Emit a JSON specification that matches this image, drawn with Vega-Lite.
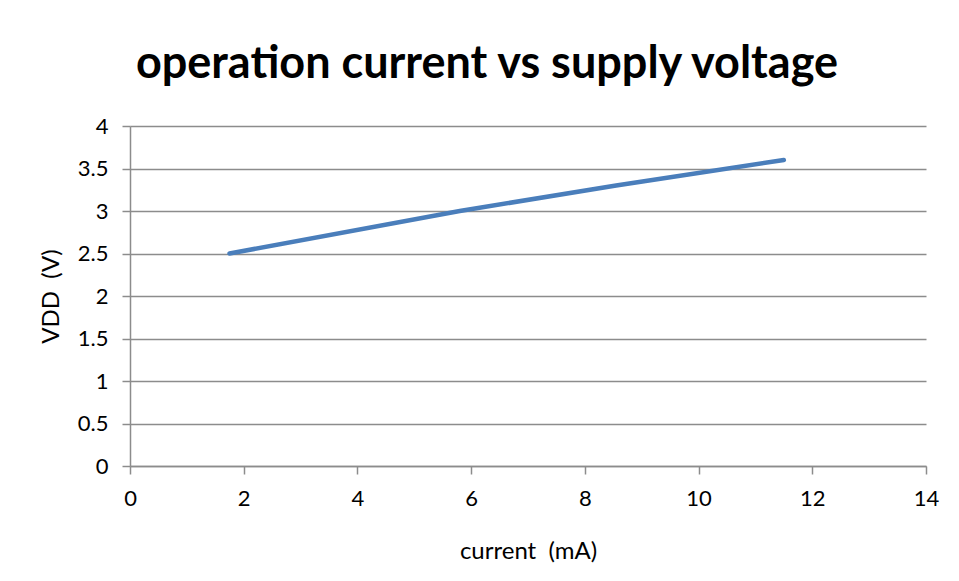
{
  "$schema": "https://vega.github.io/schema/vega-lite/v6.json",
  "width": 796,
  "height": 340,
  "autosize": {"type": "none"},
  "padding": {"left": 130, "top": 126, "right": 33, "bottom": 115},
  "background": "white",
  "title": {
    "text": "operation current vs supply voltage",
    "font": "Lato",
    "fontSize": 45,
    "fontWeight": "bold",
    "color": "black",
    "anchor": "middle",
    "dx": -41,
    "offset": 28
  },
  "data": {
    "values": [
      {"current": 1.75, "vdd": 2.5},
      {"current": 5.8, "vdd": 3.0},
      {"current": 8.55, "vdd": 3.3},
      {"current": 11.5, "vdd": 3.6}
    ]
  },
  "mark": {"type": "line", "color": "#4a7ebb", "strokeWidth": 4.5, "strokeCap": "round", "strokeJoin": "round"},
  "encoding": {
    "x": {
      "field": "current",
      "type": "quantitative",
      "scale": {"domain": [0, 14], "nice": false, "zero": true},
      "axis": {
        "title": "current\u00a0\u00a0(mA)",
        "values": [0, 2, 4, 6, 8, 10, 12, 14],
        "grid": false,
        "labelPadding": 14,
        "titlePadding": 30
      }
    },
    "y": {
      "field": "vdd",
      "type": "quantitative",
      "scale": {"domain": [0, 4], "nice": false},
      "axis": {
        "title": "VDD\u00a0\u00a0(V)",
        "values": [0, 0.5, 1, 1.5, 2, 2.5, 3, 3.5, 4],
        "format": "~g",
        "grid": true,
        "labelPadding": 14,
        "titlePadding": 14
      }
    }
  },
  "config": {
    "view": {"stroke": null},
    "axis": {
      "labelFont": "Lato",
      "labelFontSize": 22,
      "labelColor": "black",
      "titleFont": "Lato",
      "titleFontSize": 24,
      "titleFontWeight": "normal",
      "titleColor": "black",
      "domainColor": "#8c8c8c",
      "domainWidth": 1.5,
      "tickColor": "#8c8c8c",
      "tickWidth": 1.5,
      "tickSize": 8,
      "gridColor": "#8c8c8c",
      "gridWidth": 1.5,
      "gridOpacity": 1,
      "labelFlush": false,
      "labelOverlap": false
    }
  }
}
